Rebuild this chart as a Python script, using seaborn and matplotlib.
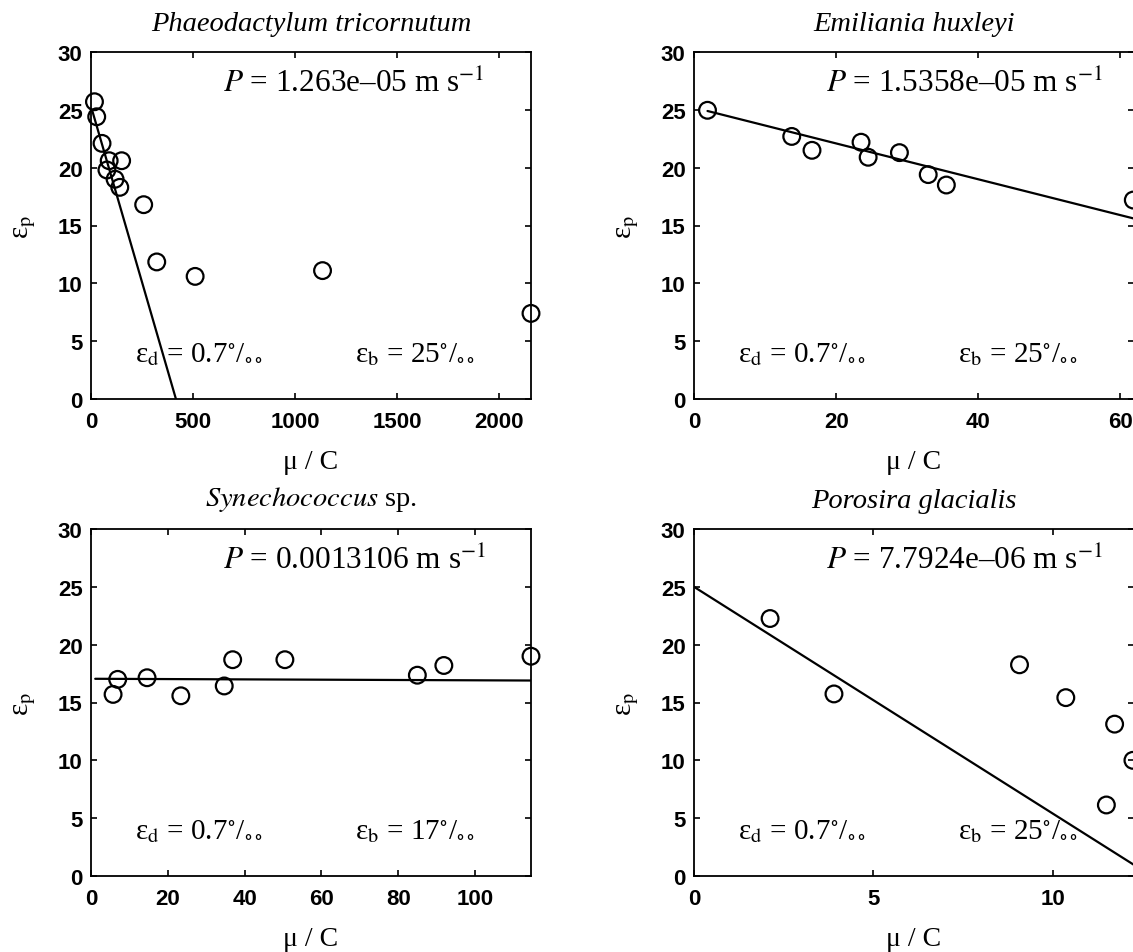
import matplotlib
matplotlib.use("Agg")
import matplotlib.pyplot as plt
import seaborn as sns
import pandas as pd

# ---------------- data ----------------
titles = ["Phaeodactylum tricornutum", "Emiliania huxleyi", "Synechococcus sp.", "Porosira glacialis"]
p_labels = ["1.263e\u201305", "1.5358e\u201305", "0.0013106", "7.7924e\u201306"]
eps_b_labels = ["25", "25", "17", "25"]

pt_x = [17, 28, 54, 89, 78, 150, 118, 141, 258, 322, 510, 1134, 2155]
pt_y = [25.7, 24.4, 22.1, 20.6, 19.8, 20.6, 19.0, 18.3, 16.8, 11.85, 10.6, 11.1, 7.4]
pt_line_x = [5, 416]
pt_line_y = [25.0, 0.0]

eh_x = [1.9, 13.75, 16.6, 23.5, 24.5, 28.9, 32.95, 35.5, 61.8]
eh_y = [24.96, 22.7, 21.5, 22.2, 20.9, 21.3, 19.4, 18.5, 17.2]
eh_line_x = [1.9, 61.9]
eh_line_y = [24.9, 15.6]

sy_x = [5.75, 6.95, 14.6, 23.4, 34.7, 36.9, 50.5, 85.0, 91.9, 114.6]
sy_y = [15.7, 17.0, 17.14, 15.58, 16.43, 18.7, 18.7, 17.36, 18.2, 19.0]
sy_line_x = [1.1, 114.6]
sy_line_y = [17.05, 16.9]

pg_x = [2.12, 3.90, 9.07, 10.36, 11.72, 11.49, 12.23]
pg_y = [22.26, 15.74, 18.26, 15.42, 13.13, 6.14, 10.0]
pg_line_x = [0, 12.75]
pg_line_y = [25.0, 0.0]

xlims = [(0, 2155), (0, 61.9), (0, 114.6), (0, 12.26)]
xticks = [[0, 500, 1000, 1500, 2000], [0, 20, 40, 60], [0, 20, 40, 60, 80, 100], [0, 5, 10]]
yticks = [0, 5, 10, 15, 20, 25, 30]

points = [(pt_x, pt_y), (eh_x, eh_y), (sy_x, sy_y), (pg_x, pg_y)]
lines = [(pt_line_x, pt_line_y), (eh_line_x, eh_line_y), (sy_line_x, sy_line_y), (pg_line_x, pg_line_y)]

# ---------------- style ----------------
sns.set_theme(style="white")
plt.rcParams.update({
    "font.family": ["Liberation Serif", "DejaVu Serif"],
    "mathtext.fontset": "stix",
    "text.color": "black",
    "axes.labelcolor": "black",
    "axes.edgecolor": "black",
    "axes.linewidth": 1.3,
    "xtick.direction": "in",
    "ytick.direction": "in",
    "xtick.top": True,
    "ytick.right": True,
    "xtick.bottom": True,
    "ytick.left": True,
    "xtick.major.size": 4.5,
    "ytick.major.size": 4.5,
    "xtick.major.width": 1.2,
    "ytick.major.width": 1.2,
    "xtick.color": "black",
    "ytick.color": "black",
    "xtick.labelcolor": "black",
    "ytick.labelcolor": "black",
})

W, H = 1133, 953
fig = plt.figure(figsize=(W / 100, H / 100), dpi=100)

lefts = [91, 694, 91, 694]
bottoms = [400, 400, 877, 877]
aw, ah = 440, 347

for i in range(4):
    ax = fig.add_axes([lefts[i] / W, (H - bottoms[i]) / H, aw / W, ah / H])
    px, py = points[i]
    lx, ly = lines[i]
    dfp = pd.DataFrame({"x": px, "y": py})
    dfl = pd.DataFrame({"x": lx, "y": ly})
    sns.lineplot(data=dfl, x="x", y="y", ax=ax, color="black", linewidth=1.6, zorder=2)
    sns.scatterplot(data=dfp, x="x", y="y", ax=ax, marker="o", s=145,
                    facecolors="none", edgecolor="black", linewidth=1.6,
                    clip_on=False, zorder=3)
    ax.set_xlim(*xlims[i])
    ax.set_ylim(0, 30)
    ax.set_xticks(xticks[i])
    ax.set_yticks(yticks)
    for lab in ax.get_xticklabels() + ax.get_yticklabels():
        lab.set_fontfamily("Liberation Sans")
        lab.set_fontweight("bold")
        lab.set_fontsize(16)
        lab.set_color("black")
    ax.tick_params(axis="x", pad=9)
    ax.tick_params(axis="y", pad=6)
    for sp in ax.spines.values():
        sp.set_visible(True)
        sp.set_color("black")

    # title
    if i == 2:
        ax.text(0.5, 1.045, r"$\mathit{Synechococcus}$ sp.", transform=ax.transAxes,
                ha="center", va="bottom", fontsize=20.5, color="black")
    else:
        ax.text(0.5, 1.045, titles[i], transform=ax.transAxes, ha="center",
                va="bottom", fontsize=20.5, style="italic", color="black")

    ax.set_xlabel("\u03bc / C", fontsize=20, color="black")
    ax.set_ylabel("\u03b5" + r"$_{\mathrm{p}}$", fontsize=21, color="black")
    ax.xaxis.set_label_coords(0.5, -0.145)
    ax.yaxis.set_label_coords(-0.12, 0.5)

    ax.text(0.30, 0.885, r"$P$ = " + p_labels[i] + r" m s$^{-1}$", transform=ax.transAxes,
            ha="left", va="baseline", fontsize=22.5, color="black")
    ax.text(0.10, 0.11, "\u03b5" + r"$_{\mathrm{d}}$ = 0.7$^{\circ}$/$_{\circ\circ}$",
            transform=ax.transAxes, ha="left", va="baseline", fontsize=21, color="black")
    ax.text(0.60, 0.11, "\u03b5" + r"$_{\mathrm{b}}$ = " + eps_b_labels[i] + r"$^{\circ}$/$_{\circ\circ}$",
            transform=ax.transAxes, ha="left", va="baseline", fontsize=21, color="black")

fig.savefig("out.png", dpi=100, facecolor="white")
